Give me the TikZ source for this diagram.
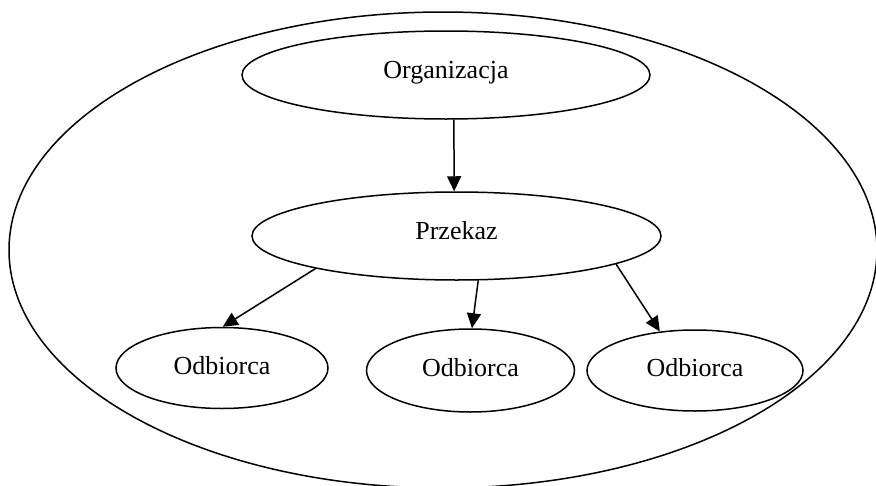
\documentclass[tikz,border=0pt]{standalone}
\usepackage{fontspec}
\setmainfont{Liberation Serif}
\usetikzlibrary{shapes.geometric,arrows.meta}

\tikzset{
  oval/.style={ellipse, draw, line width=1.5pt, inner sep=0pt,
    font=\fontsize{26}{30}\selectfont},
  toptext/.style={text height=9pt, text depth=3pt},
  lowtext/.style={text height=12pt, text depth=0pt},
  link/.style={line width=1.5pt, -{Triangle[length=15pt, width=14pt]}}
}

\begin{document}
\begin{tikzpicture}[x=1pt, y=1pt]
  \clip (0,0) rectangle (876,-485);

  % surrounding environment
  \node[ellipse, draw, line width=1.5pt, minimum width=868pt, minimum height=476pt]
    (env) at (443,-250) {};

  % sender and message
  \node[oval, toptext, minimum width=408pt, minimum height=88pt]
    (org) at (446,-75) {Organizacja};
  \node[oval, toptext, minimum width=409pt, minimum height=88pt]
    (prz) at (456.5,-236) {Przekaz};

  % receivers
  \node[oval, lowtext, minimum width=212pt, minimum height=81pt]
    (odb1) at (222,-368) {Odbiorca};
  \node[oval, lowtext, minimum width=208pt, minimum height=83pt]
    (odb2) at (470.5,-370.5) {Odbiorca};
  \node[oval, lowtext, minimum width=216pt, minimum height=81pt]
    (odb3) at (695,-370.5) {Odbiorca};

  % flow of the message
  \draw[link] (org.280) -- (prz.93);
  \draw[link] (prz.193.5) -- (odb1.89);
  \draw[link] (prz.296) -- (odb2.88);
  \draw[link] (prz.350.3) -- (odb3.132);
\end{tikzpicture}
\end{document}
